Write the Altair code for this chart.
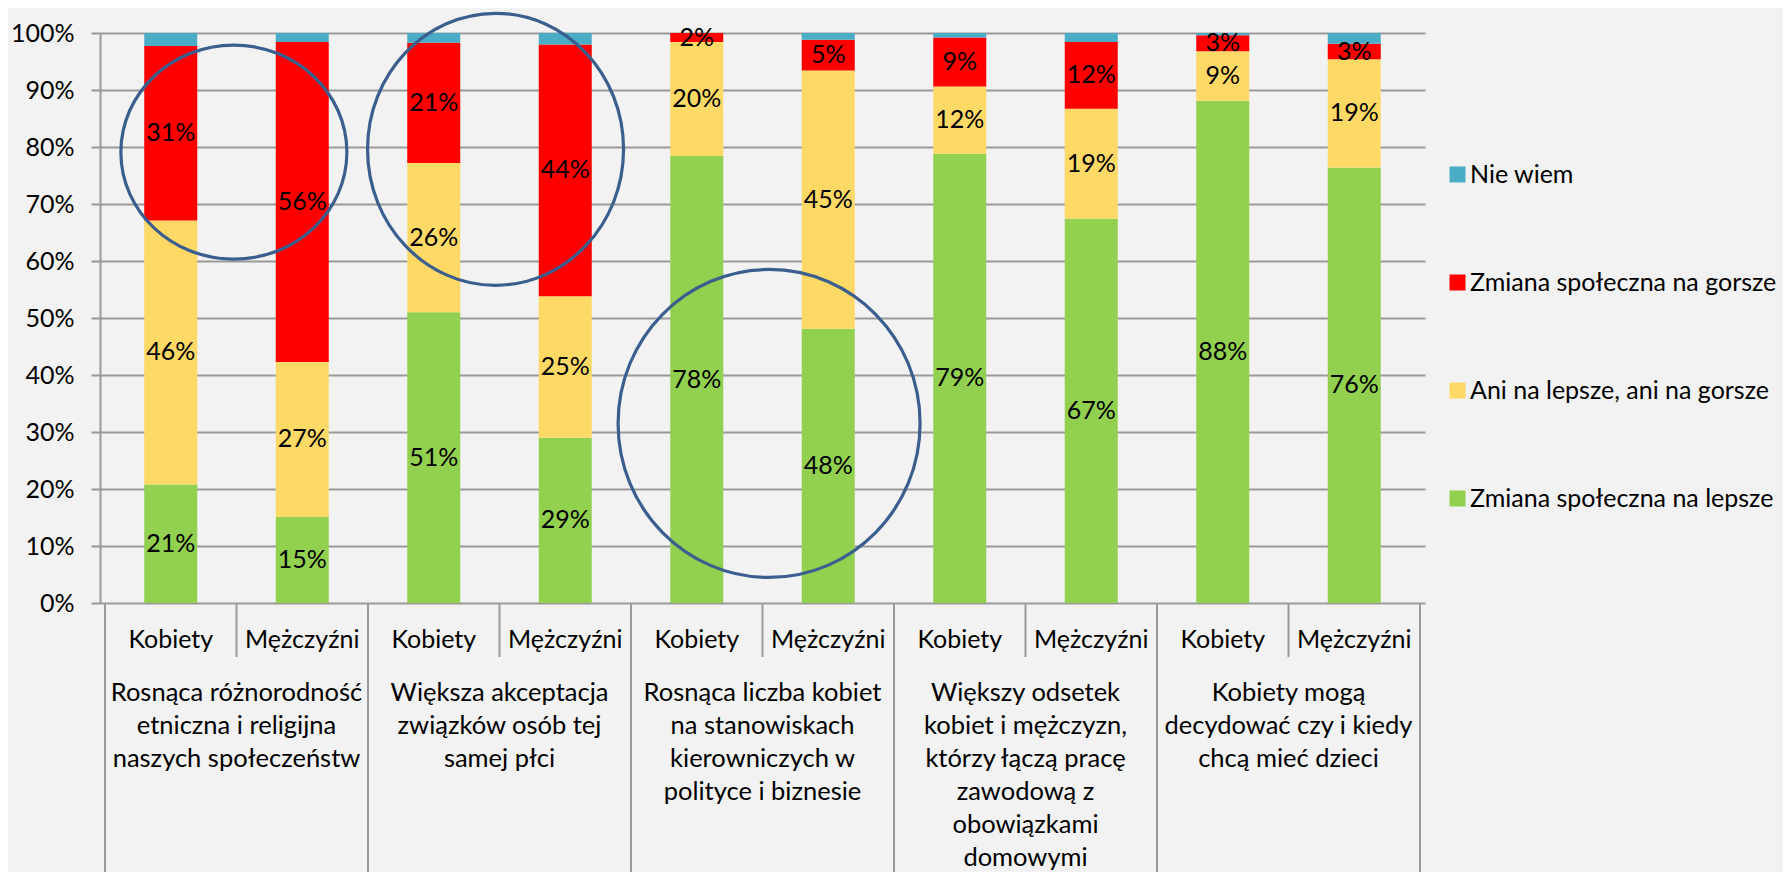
import altair as alt
import pandas as pd

# ---------------- data ----------------
genders = ["Kobiety", "Mężczyźni"]
groups = [
    ["Rosnąca różnorodność", "etniczna i religijna", "naszych społeczeństw"],
    ["Większa akceptacja", "związków osób tej", "samej płci"],
    ["Rosnąca liczba kobiet", "na stanowiskach", "kierowniczych w", "polityce i biznesie"],
    ["Większy odsetek", "kobiet i mężczyzn,", "którzy łączą pracę", "zawodową z", "obowiązkami", "domowymi"],
    ["Kobiety mogą", "decydować czy i kiedy", "chcą mieć dzieci"],
]
series = ["Nie wiem", "Zmiana społeczna na gorsze", "Ani na lepsze, ani na gorsze", "Zmiana społeczna na lepsze"]
colors = ["#4BACC6", "#FF0000", "#FFD966", "#92D050"]

lepsze = [20.8, 15.1, 51.0, 29.0, 78.4, 48.1, 78.8, 67.4, 88.1, 76.4]
ani = [46.3, 27.2, 26.2, 24.8, 20.0, 45.3, 11.8, 19.3, 8.7, 19.0]
gorsze = [30.6, 56.1, 21.1, 44.2, 1.6, 5.4, 8.6, 11.7, 2.8, 2.7]
nie_wiem = [2.3, 1.6, 1.7, 2.0, 0.0, 1.2, 0.8, 1.6, 0.4, 1.9]

y_ticks = list(range(0, 101, 10))

# annotation ellipses (centre in slot units / percent, radii in px)
ellipse_x = [0.98, 2.97, 5.05]
ellipse_y = [79.1, 79.6, 31.5]
ellipse_rx = [113, 128, 151]
ellipse_ry = [107, 136, 154]

# ---------------- style ----------------
FONT = "Lato"
GRID = "#999999"
BG = "#F2F2F2"
ELLIPSE = "#3A5E8E"
W, H = 1325, 570

# ---------------- tables ----------------
stack_order = [(series[3], lepsze, True), (series[2], ani, True),
               (series[1], gorsze, True), (series[0], nie_wiem, False)]
rows = []
n_bars = len(lepsze)
for i in range(n_bars):
    base = 0.0
    for name, vals, show in stack_order:
        v = vals[i]
        rows.append(dict(pos=i + 0.5, series=name, y0=base, y1=base + v,
                         mid=base + v / 2, label=f"{round(v)}%" if show else ""))
        base += v
df = pd.DataFrame(rows)

gender_df = pd.DataFrame({"pos": [i + 0.5 for i in range(n_bars)],
                          "text": [genders[i % 2] for i in range(n_bars)]})
group_df = pd.DataFrame({"pos": [2 * g + 1 for g in range(len(groups))],
                         "text": ["\n".join(lines) for lines in groups]})
long_df = pd.DataFrame({"pos": [2 * g for g in range(len(groups) + 1)]})
short_df = pd.DataFrame({"pos": [2 * g + 1 for g in range(len(groups))]})

xs = alt.Scale(domain=[0, n_bars], nice=False, zero=False)
ys = alt.Scale(domain=[0, 100], nice=False)
X = alt.X("pos:Q", scale=xs, axis=None)
Y_AX = alt.Axis(
    values=y_ticks, labelExpr="datum.value + '%'", title=None,
    grid=True, gridColor=GRID, gridWidth=2,
    domainColor=GRID, domainWidth=2,
    tickColor=GRID, tickWidth=2, tickSize=9,
    labelPadding=17, labelFont=FONT, labelFontSize=25, labelColor="black")

bars = alt.Chart(df).mark_bar(size=53).encode(
    x=X,
    y=alt.Y("y0:Q", scale=ys, axis=Y_AX, title=None),
    y2="y1:Q",
    color=alt.Color("series:N", scale=alt.Scale(domain=series, range=colors),
                    legend=alt.Legend(
                        title=None, orient="none", legendX=1345, legendY=129,
                        direction="vertical", symbolType="square", symbolSize=256,
                        symbolStrokeWidth=0, labelFont=FONT, labelFontSize=25,
                        labelColor="black", labelLimit=600, rowPadding=82,
                        labelOffset=0)),
)

labels = alt.Chart(df[df["label"] != ""]).mark_text(
    font=FONT, fontSize=25, color="black", align="center", baseline="middle"
).encode(x=X, y=alt.Y("mid:Q", scale=ys, axis=Y_AX, title=None), text="label:N")

long_rules = alt.Chart(long_df).mark_rule(color=GRID, strokeWidth=2).encode(
    x=X, y=alt.value(H), y2=alt.value(H + 400))
short_rules = alt.Chart(short_df).mark_rule(color=GRID, strokeWidth=2).encode(
    x=X, y=alt.value(H), y2=alt.value(H + 54))

gender_text = alt.Chart(gender_df).mark_text(
    font=FONT, fontSize=25, color="black", align="center", baseline="middle"
).encode(x=X, y=alt.value(H + 37), text="text:N")

group_text = alt.Chart(group_df).mark_text(
    font=FONT, fontSize=25.5, color="black", align="center", baseline="top",
    lineBreak="\n", lineHeight=33
).encode(x=X, y=alt.value(H + 78), text="text:N")

layers = [bars, labels, long_rules, short_rules, gender_text, group_text]

k = 0.5523
for cx, cy, rx, ry in zip(ellipse_x, ellipse_y, ellipse_rx, ellipse_ry):
    r = max(rx, ry)
    a, b = rx / r, ry / r
    path = (f"M {a},0 C {a},{k*b} {k*a},{b} 0,{b} "
            f"C {-k*a},{b} {-a},{k*b} {-a},0 "
            f"C {-a},{-k*b} {-k*a},{-b} 0,{-b} "
            f"C {k*a},{-b} {a},{-k*b} {a},0 Z")
    edf = pd.DataFrame({"pos": [cx], "pct": [cy]})
    layers.append(alt.Chart(edf).mark_point(
        shape=path, size=(2 * r) ** 2, filled=False, color=ELLIPSE,
        strokeWidth=3.2, opacity=1
    ).encode(x=X, y=alt.Y("pct:Q", scale=ys, axis=Y_AX, title=None)))

chart = alt.layer(*layers).properties(
    width=W, height=H,
    padding={"left": 92, "top": 25, "right": 358, "bottom": 269},
    autosize=alt.AutoSizeParams(type="none"),
    background=BG,
).configure_view(stroke=None)

chart.save("out.html", embed_options={"renderer": "svg", "actions": False})
